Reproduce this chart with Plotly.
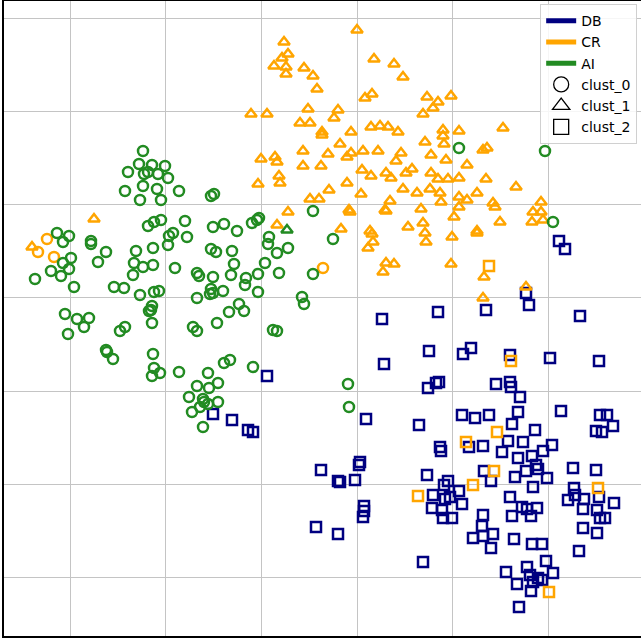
import plotly.graph_objects as go

# t-SNE style embedding coordinates (arbitrary units, y grows downward on this axis)
db_c2_x = [559,565,526,438,486,529,580,429,463,471,510,550,599,428,436,439,496,510,511,520,462,475,489,518,512,561,600,607,
           382,384,267,213,232,248,253,366,419,321,360,359,340,338,355,364,364,363,316,338,423,
           535,440,441,469,483,502,508,523,543,552,532,518,596,602,613,427,448,444,484,491,526,536,538,515,547,573,596,
           433,445,450,459,462,432,442,452,443,510,533,574,568,575,584,583,599,597,614,600,605,512,522,527,531,537,
           483,482,473,483,493,491,583,597,579,514,532,542,546,506,527,530,538,533,542,553,517,531,519]
db_c2_y = [241,249,293,312,310,305,316,351,354,348,355,358,361,388,383,382,384,382,387,397,415,418,415,412,424,411,415,415,
           319,364,376,414,420,430,432,419,425,470,462,465,482,481,480,506,511,517,527,534,562,
           430,447,451,447,446,452,441,442,451,445,456,458,431,432,426,475,481,485,471,481,471,465,469,477,478,468,470,
           495,499,497,491,504,508,510,518,518,497,487,488,500,495,499,509,497,510,503,518,518,516,507,509,516,508,
           515,526,538,536,534,548,528,533,551,539,544,544,561,572,567,575,578,582,580,573,584,591,607]

cr_c1_x = [357,284,288,282,274,286,286,304,313,317,374,394,403,365,372,251,267,308,338,300,310,334,322,322,351,371,380,388,398,423,
           340,303,328,351,347,363,378,401,396,261,275,277,303,321,362,371,386,391,406,412,279,280,258,347,329,403,417,361,390,310,319,
           288,349,350,385,421,
           427,438,451,433,443,459,503,425,444,443,483,487,431,446,467,431,448,438,459,486,516,430,440,441,459,467,477,459,493,495,541,
           533,541,500,454,
           277,341,370,372,373,368,386,394,383,386,408,
           423,425,426,452,477,477,532,543,451,484,483,526,94,32]
cr_c1_y = [30,42,54,58,66,67,74,68,76,89,59,64,77,98,94,114,114,109,110,123,123,118,132,135,132,127,126,127,132,114,
           144,151,154,153,157,151,151,153,161,159,157,162,166,166,170,176,173,178,173,169,176,183,184,183,190,189,193,194,201,199,199,
           212,210,212,210,209,
           97,102,96,108,130,131,128,142,144,136,150,148,155,160,165,173,179,179,178,179,187,189,193,202,197,200,193,207,203,207,202,
           212,212,222,217,
           225,229,231,234,242,248,263,264,272,211,227,
           223,233,242,237,231,233,222,220,264,277,298,287,219,247]

cr_c0_x = [47,38,54,323]
cr_c0_y = [239,252,257,268]

cr_c2_x = [489,511,497,466,494,473,598,549,418]
cr_c2_y = [266,361,432,442,471,485,488,592,496]

ai_c0_x = [143,139,152,165,128,144,148,158,168,143,125,157,179,140,161,211,214,313,
           57,69,63,91,91,106,98,71,63,69,51,61,35,74,148,154,161,185,213,169,173,187,136,153,168,134,143,153,133,175,197,199,213,
           211,216,114,124,140,154,159,197,211,210,213,152,151,149,152,65,77,89,84,68,120,125,193,197,217,106,107,113,153,154,152,160,
           179,208,218,197,209,189,203,204,218,200,208,192,
           224,237,252,257,259,269,268,277,288,232,234,265,231,246,245,258,279,313,333,223,258,302,304,239,244,229,273,277,224,230,253,
           348,349,203,459,545,553]
ai_c0_y = [151,164,165,166,172,174,172,174,178,186,191,189,191,200,200,196,194,211,
           233,236,242,241,244,252,262,258,263,269,271,276,279,287,226,222,220,221,227,236,233,237,251,248,245,263,267,265,275,268,273,276,277,
           249,252,287,288,295,292,291,298,289,294,293,306,310,311,323,314,319,318,327,334,331,327,327,331,323,350,352,359,354,368,376,373,
           372,373,383,386,388,397,399,402,402,407,404,412,
           224,231,223,220,218,237,244,253,248,251,264,263,275,278,285,274,273,274,239,291,292,297,304,304,311,312,330,331,363,360,367,
           384,407,427,148,151,222]

ai_c1_x = [287]
ai_c1_y = [230]

categories = ["DB", "CR", "AI"]
clusters = ["clust_0", "clust_1", "clust_2"]
cat_colors = {"DB": "#000080", "CR": "#FFA500", "AI": "#228B22"}
clust_symbols = {"clust_0": "circle-open", "clust_1": "triangle-up-open", "clust_2": "square-open"}
clust_sizes = {"clust_0": 10, "clust_1": 10, "clust_2": 10}

groups = [
    ("DB", "clust_2", db_c2_x, db_c2_y),
    ("CR", "clust_1", cr_c1_x, cr_c1_y),
    ("CR", "clust_0", cr_c0_x, cr_c0_y),
    ("CR", "clust_2", cr_c2_x, cr_c2_y),
    ("AI", "clust_0", ai_c0_x, ai_c0_y),
    ("AI", "clust_1", ai_c1_x, ai_c1_y),
]

fig = go.Figure()
for cat, cl, xs, ys in groups:
    fig.add_trace(go.Scatter(
        x=xs, y=ys, mode="markers", showlegend=False,
        marker=dict(symbol=clust_symbols[cl], size=clust_sizes[cl],
                    color=cat_colors[cat], line=dict(width=2.5, color=cat_colors[cat])),
        hoverinfo="skip"))

for cat in categories:
    fig.add_trace(go.Scatter(x=[None], y=[None], mode="lines", name=cat,
                             line=dict(color=cat_colors[cat], width=5)))
for cl in clusters:
    fig.add_trace(go.Scatter(x=[None], y=[None], mode="markers", name=cl,
                             marker=dict(symbol=clust_symbols[cl], size=15, color="black",
                                         line=dict(width=1.3, color="black"))))

fig.update_layout(
    width=641, height=639,
    margin=dict(l=4, r=0, t=1, b=3),
    paper_bgcolor="white", plot_bgcolor="white",
    font=dict(family="DejaVu Sans", size=14, color="black"),
    legend=dict(x=0.994, y=0.995, xanchor="right", yanchor="top",
                bgcolor="rgba(255,255,255,0.85)", bordercolor="#d0d0d0", borderwidth=1,
                tracegroupgap=0, itemsizing="trace"),
    xaxis=dict(range=[4, 641], showticklabels=False, ticks="", zeroline=False,
               showgrid=True, gridcolor="#c4c4c4", gridwidth=1, tick0=70, dtick=95.7,
               showline=True, linecolor="black", linewidth=1.5, mirror=True),
    yaxis=dict(range=[636, 1], showticklabels=False, ticks="", zeroline=False,
               showgrid=True, gridcolor="#c4c4c4", gridwidth=1, tick0=18, dtick=93.3,
               showline=True, linecolor="black", linewidth=1.5, mirror=False),
)

fig.write_html("out.html", config={"displayModeBar": False},
               post_script="document.body.style.margin='0';document.body.style.overflow='hidden';")
